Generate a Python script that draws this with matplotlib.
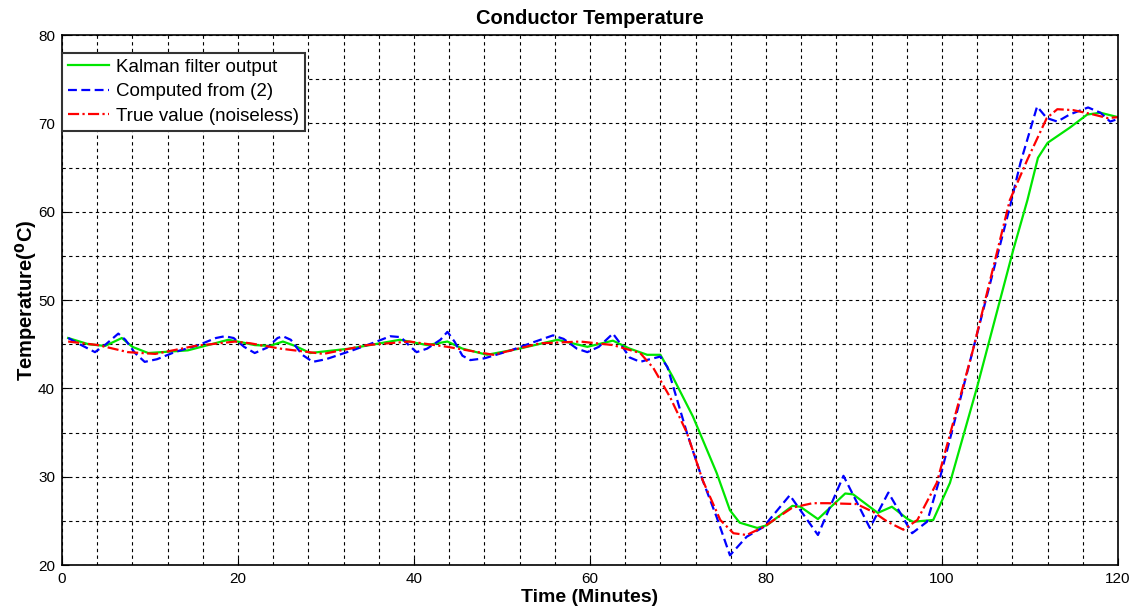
import numpy as np
import matplotlib.pyplot as plt

# data
t_kalman = [0.7, 3.0, 4.9, 6.8, 8.0, 9.8, 14.3, 18.9, 20.5, 21.9, 23.6, 25.1, 26.5, 28.2,
            32.7, 38.4, 41.5, 43.8, 45.5, 48.3, 52.0, 56.3, 59.7, 62.6, 64.5, 66.5, 68.0,
            69.4, 71.7, 74.4, 75.9, 77.0, 79.0, 80.1, 83.0, 83.9, 85.9, 89.0, 89.9, 92.7,
            94.3, 96.1, 96.7, 99.0, 100.9, 104.0, 108.1, 109.7, 110.9, 112.0, 114.5, 116.5,
            118.0, 120.0]
kalman = [45.7, 45.0, 44.8, 45.7, 44.7, 44.0, 44.3, 45.5, 45.2, 44.9, 44.8, 45.3, 44.8, 44.0,
          44.5, 45.5, 44.9, 45.3, 44.5, 43.8, 44.5, 45.5, 44.7, 45.4, 44.5, 43.8, 43.8,
          41.3, 36.8, 30.4, 26.2, 24.8, 24.2, 24.5, 26.7, 26.6, 25.2, 28.1, 28.0, 25.9,
          26.6, 25.2, 24.9, 25.1, 29.3, 40.2, 55.7, 61.3, 66.1, 67.8, 69.5, 71.0,
          71.2, 70.7]

t_computed = [0.7, 2.0, 3.75, 5.0, 6.4, 7.2, 8.3, 9.4, 10.8, 12.8, 15.5, 17.5, 18.5, 19.5,
              20.7, 21.9, 23.3, 24.5, 25.1, 26.0, 27.3, 28.5, 30.0, 33.0, 35.5, 37.3, 38.5,
              39.5, 40.3, 41.5, 43.0, 43.8, 44.6, 45.5, 46.4, 48.0, 51.0, 53.5, 55.8, 57.0,
              58.5, 59.7, 61.0, 62.6, 63.5, 64.5, 65.7, 66.8, 68.0, 68.8, 71.0, 72.8, 74.4,
              75.9, 77.8, 79.7, 82.7, 85.9, 88.8, 91.8, 93.9, 96.6, 98.3, 99.8, 103.5,
              107.7, 108.9, 110.8, 111.9, 113.1, 114.5, 116.6, 118.0, 119.1, 120.0]
computed = [45.7, 45.0, 44.1, 45.0, 46.2, 45.5, 44.0, 43.0, 43.3, 44.1, 44.9, 45.7, 45.9, 45.7,
            44.7, 44.0, 44.6, 45.7, 45.9, 45.5, 43.8, 43.0, 43.3, 44.3, 45.2, 45.9, 45.8,
            44.8, 44.1, 44.5, 45.5, 46.4, 45.3, 43.7, 43.2, 43.4, 44.3, 45.2, 46.0, 45.6,
            44.5, 44.1, 44.7, 46.2, 45.0, 43.5, 43.0, 43.3, 43.6, 42.4, 35.0, 29.6, 25.4,
            21.1, 23.2, 24.3, 27.9, 23.4, 30.1, 24.2, 28.2, 23.6, 24.9, 30.0, 44.3,
            60.5, 65.5, 71.9, 70.6, 70.2, 71.0, 71.8, 71.2, 70.2, 70.5]

t_true = [0.7, 4.1, 7.5, 10.6, 15.1, 19.7, 21.4, 24.8, 29.7, 34.7, 39.5, 43.8, 49.0, 54.3,
          58.9, 62.6, 65.7, 67.2, 69.1, 71.0, 72.8, 74.8, 76.3, 77.8, 79.7, 83.0, 85.3,
          87.0, 90.3, 92.2, 93.8, 95.6, 97.2, 99.4, 103.5, 107.7, 109.7, 111.9, 113.1,
          114.9, 117.2, 118.8, 120.0]
true_val = [45.3, 44.9, 44.1, 43.9, 44.8, 45.3, 45.1, 44.5, 43.9, 44.9, 45.3, 44.7, 43.8, 45.1,
            45.3, 44.9, 44.0, 42.3, 39.0, 35.0, 29.6, 25.1, 23.6, 23.4, 24.3, 26.5, 27.0,
            27.0, 26.9, 26.0, 24.9, 24.0, 25.1, 29.3, 44.3, 61.3, 65.9, 70.6, 71.6,
            71.5, 71.0, 70.6, 70.7]

plt.rcParams['font.family'] = ['Liberation Sans', 'DejaVu Sans']

fig = plt.figure(figsize=(11.33, 6.09), dpi=100)
ax = fig.add_axes([0.0547, 0.0722, 0.9321, 0.8703])

ax.plot(t_kalman, kalman, color='#00e600', lw=1.6, ls='-', label='Kalman filter output')
ax.plot(t_computed, computed, color='#0000ff', lw=1.6, ls=(0, (4, 2)), label='Computed from (2)')
ax.plot(t_true, true_val, color='#ff0000', lw=1.6, ls=(0, (5, 1.5, 1, 1.5)), label='True value (noiseless)')

ax.set_xlim(0, 120)
ax.set_ylim(20, 80)
ax.set_xticks(np.arange(0, 121, 20))
ax.set_yticks(np.arange(20, 81, 10))
ax.set_xticks(np.arange(0, 121, 4), minor=True)
ax.set_yticks(np.arange(20, 81, 5), minor=True)
ax.grid(which='both', color='black', ls=(0, (3, 3)), lw=0.8)
ax.tick_params(which='major', direction='in', length=5, width=0.8, pad=5)
ax.tick_params(which='minor', length=0)
for lab in ax.get_xticklabels() + ax.get_yticklabels():
    lab.set_family(['Liberation Sans Narrow', 'Liberation Sans'])
    lab.set_fontsize(11)
for s in ax.spines.values():
    s.set_linewidth(1.2)

ax.set_title('Conductor Temperature', fontsize=14.5, fontweight='bold', pad=8)
ax.set_xlabel('Time (Minutes)', fontsize=14, fontweight='bold', labelpad=2)
ax.set_ylabel(r'Temperature($\mathbf{^{0}}$C)', fontsize=14.5, fontweight='bold', labelpad=-1)

leg = ax.legend(loc='upper left', bbox_to_anchor=(0, 0.966), borderaxespad=0,
                fontsize=13.5, fancybox=False, framealpha=1, handlelength=2.2,
                borderpad=0.3, labelspacing=0.4, handletextpad=0.4)
leg.get_frame().set_edgecolor('#333333')
leg.get_frame().set_linewidth(1.5)

plt.savefig('out.png', dpi=100)
